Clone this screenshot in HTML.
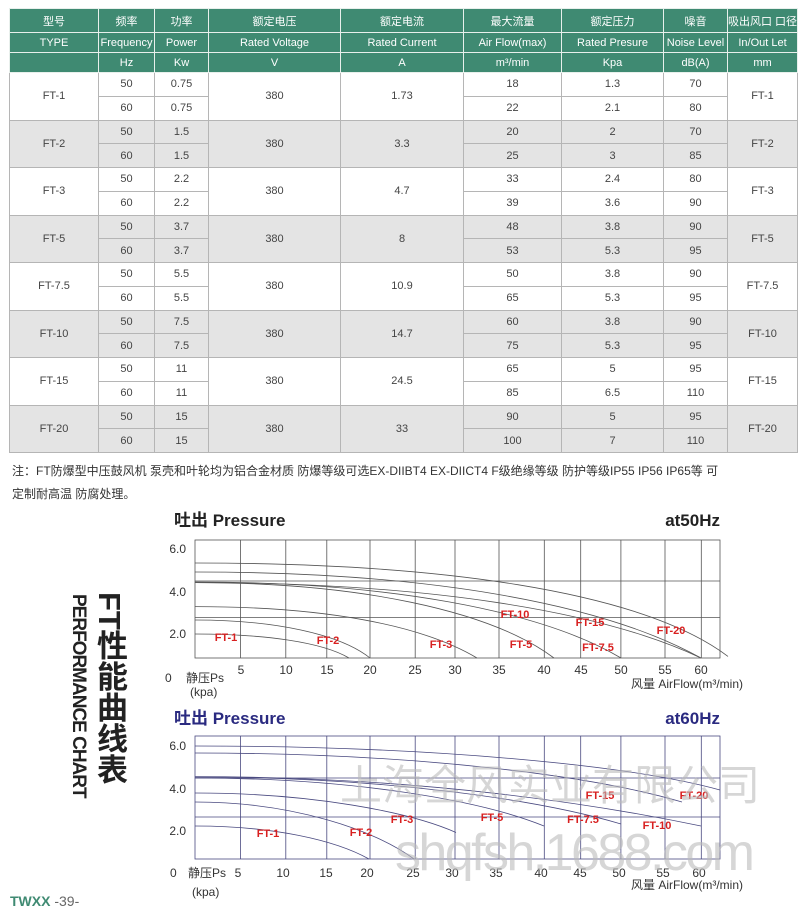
<!DOCTYPE html>
<html><head><meta charset="utf-8"><style>
body{margin:0;width:800px;height:905px;background:#fff;position:relative;overflow:hidden;font-family:"Liberation Sans","Noto Sans CJK SC",sans-serif}
table{position:absolute;left:9px;top:8px;border-collapse:collapse;table-layout:fixed;width:788px;font-size:11px;color:#444}
td{text-align:center;padding:0;border:1px solid #b5b5b5;white-space:nowrap;overflow:hidden}
tr.h td{background:#3f8a72;color:#fff;border:1px solid #e8f0ec}
tr.h1 td{height:23px}tr.h2 td,tr.h3 td{height:19px}
tr.d td{height:22.75px}
tr.g td{background:#e4e4e4}
.note{position:absolute;left:12px;font-size:12px;color:#333;white-space:nowrap}
</style></head><body>
<table>
<colgroup><col style="width:89px"><col style="width:56px"><col style="width:54px"><col style="width:132px"><col style="width:123px"><col style="width:98px"><col style="width:102px"><col style="width:64px"><col style="width:70px"></colgroup>
<tr class="h h1"><td>型号</td><td>频率</td><td>功率</td><td>额定电压</td><td>额定电流</td><td>最大流量</td><td>额定压力</td><td>噪音</td><td>吸出风口 口径</td></tr>
<tr class="h h2"><td>TYPE</td><td>Frequency</td><td>Power</td><td>Rated Voltage</td><td>Rated Current</td><td>Air Flow(max)</td><td>Rated Presure</td><td>Noise Level</td><td>In/Out Let</td></tr>
<tr class="h h3"><td></td><td>Hz</td><td>Kw</td><td>V</td><td>A</td><td>m³/min</td><td>Kpa</td><td>dB(A)</td><td>mm</td></tr>
<tr class="d"><td rowspan="2">FT-1</td><td>50</td><td>0.75</td><td rowspan="2">380</td><td rowspan="2">1.73</td><td>18</td><td>1.3</td><td>70</td><td rowspan="2">FT-1</td></tr>
<tr class="d"><td>60</td><td>0.75</td><td>22</td><td>2.1</td><td>80</td></tr>
<tr class="d g"><td rowspan="2">FT-2</td><td>50</td><td>1.5</td><td rowspan="2">380</td><td rowspan="2">3.3</td><td>20</td><td>2</td><td>70</td><td rowspan="2">FT-2</td></tr>
<tr class="d g"><td>60</td><td>1.5</td><td>25</td><td>3</td><td>85</td></tr>
<tr class="d"><td rowspan="2">FT-3</td><td>50</td><td>2.2</td><td rowspan="2">380</td><td rowspan="2">4.7</td><td>33</td><td>2.4</td><td>80</td><td rowspan="2">FT-3</td></tr>
<tr class="d"><td>60</td><td>2.2</td><td>39</td><td>3.6</td><td>90</td></tr>
<tr class="d g"><td rowspan="2">FT-5</td><td>50</td><td>3.7</td><td rowspan="2">380</td><td rowspan="2">8</td><td>48</td><td>3.8</td><td>90</td><td rowspan="2">FT-5</td></tr>
<tr class="d g"><td>60</td><td>3.7</td><td>53</td><td>5.3</td><td>95</td></tr>
<tr class="d"><td rowspan="2">FT-7.5</td><td>50</td><td>5.5</td><td rowspan="2">380</td><td rowspan="2">10.9</td><td>50</td><td>3.8</td><td>90</td><td rowspan="2">FT-7.5</td></tr>
<tr class="d"><td>60</td><td>5.5</td><td>65</td><td>5.3</td><td>95</td></tr>
<tr class="d g"><td rowspan="2">FT-10</td><td>50</td><td>7.5</td><td rowspan="2">380</td><td rowspan="2">14.7</td><td>60</td><td>3.8</td><td>90</td><td rowspan="2">FT-10</td></tr>
<tr class="d g"><td>60</td><td>7.5</td><td>75</td><td>5.3</td><td>95</td></tr>
<tr class="d"><td rowspan="2">FT-15</td><td>50</td><td>11</td><td rowspan="2">380</td><td rowspan="2">24.5</td><td>65</td><td>5</td><td>95</td><td rowspan="2">FT-15</td></tr>
<tr class="d"><td>60</td><td>11</td><td>85</td><td>6.5</td><td>110</td></tr>
<tr class="d g"><td rowspan="2">FT-20</td><td>50</td><td>15</td><td rowspan="2">380</td><td rowspan="2">33</td><td>90</td><td>5</td><td>95</td><td rowspan="2">FT-20</td></tr>
<tr class="d g"><td>60</td><td>15</td><td>100</td><td>7</td><td>110</td></tr>
</table>
<div class="note" style="top:462px">注：FT防爆型中压鼓风机 泵壳和叶轮均为铝合金材质 防爆等级可选EX-DIIBT4 EX-DIICT4 F级绝缘等级 防护等级IP55 IP56 IP65等 可</div>
<div class="note" style="top:485px">定制耐高温 防腐处理。</div>

<div style="position:absolute;left:92px;top:592px;writing-mode:vertical-rl;font-size:31px;font-weight:bold;color:#222;line-height:34px;font-family:'Liberation Sans','Noto Sans CJK SC',sans-serif">FT性能曲线表</div>
<div style="position:absolute;left:89px;top:594px;transform:rotate(90deg);transform-origin:0 0;font-size:19px;font-weight:bold;color:#222;white-space:nowrap;letter-spacing:-1px;font-family:'Liberation Sans Narrow','Liberation Sans',sans-serif">PERFORMANCE CHART</div>
<div style="position:absolute;left:10px;top:893px;font-size:14px;color:#3f8a72;font-weight:bold">TWXX <span style="color:#666;font-weight:normal">-39-</span></div>

<svg width="800" height="905" style="position:absolute;left:0;top:0" font-family="Liberation Sans, Noto Sans CJK SC, sans-serif">
<g stroke="#555" stroke-width="0.8" fill="none">
<rect x="195" y="540" width="525" height="118"/>
<path d="M240.6 540V658M285.8 540V658M326.8 540V658M370 540V658M415.2 540V658M455 540V658M499 540V658M544.3 540V658M580.7 540V658M620.9 540V658M665 540V658M701.3 540V658M195 581H720M195 617.4H720"/>
<path d="M195 634C264 634 322 642 349 658"/>
<path d="M195 620C274 620 340 634 370 658"/>
<path d="M195 606.6C322 606.6 420 624 477 658"/>
<path d="M195 582.6C357 582.6 490 610 554 658"/>
<path d="M195 582C387 582 540 610 621 658"/>
<path d="M195 582.6C423 582.6 600 610 701 658"/>
<path d="M195 572C423 572 600 602 701 658"/>
<path d="M195 563C435 563 640 590 728 656.4"/>
</g>
<g fill="#d82020" font-size="11" font-weight="bold" text-anchor="middle">
<text x="226" y="641">FT-1</text><text x="328" y="644">FT-2</text><text x="441" y="648">FT-3</text><text x="521" y="648">FT-5</text><text x="598" y="651">FT-7.5</text><text x="515" y="618">FT-10</text><text x="590" y="626">FT-15</text><text x="671" y="634">FT-20</text>
</g>
<g fill="#333" font-size="12">
<text x="186" y="553" text-anchor="end">6.0</text><text x="186" y="596" text-anchor="end">4.0</text><text x="186" y="638" text-anchor="end">2.0</text>
<g text-anchor="middle"><text x="241" y="674">5</text><text x="286" y="674">10</text><text x="327" y="674">15</text><text x="370" y="674">20</text><text x="415" y="674">25</text><text x="455" y="674">30</text><text x="499" y="674">35</text><text x="544" y="674">40</text><text x="581" y="674">45</text><text x="621" y="674">50</text><text x="665" y="674">55</text><text x="701" y="674">60</text></g>
<text x="165" y="682">0</text><text x="186" y="682">静压Ps</text><text x="190" y="696">(kpa)</text>
<text x="743" y="688" text-anchor="end">风量 AirFlow(m³/min)</text>
</g>
<text x="174" y="526" font-size="17" font-weight="bold" fill="#222">吐出 Pressure</text>
<text x="720" y="526" font-size="17" font-weight="bold" fill="#222" text-anchor="end">at50Hz</text>

<g stroke="#4a4a80" stroke-width="0.8" fill="none">
<rect x="195" y="736" width="525" height="123"/>
<path d="M240.6 736V859M285.8 736V859M326.8 736V859M370 736V859M415.2 736V859M455 736V859M499 736V859M544.3 736V859M580.7 736V859M620.9 736V859M665 736V859M701.3 736V859M195 778H720M195 817H720"/>
<path d="M195 826C273 826 335 840 369 859"/>
<path d="M195 802C293 802 375 830 414 859"/>
<path d="M195 793C312 793 410 812 456 832.5"/>
<path d="M195 778C352 778 480 800 544 826"/>
<path d="M195 777C387 777 540 800 621 824"/>
<path d="M195 776.6C423 776.6 600 805 701 826"/>
<path d="M195 753C414 753 590 775 682 802"/>
<path d="M195 746C431 746 630 765 720 790"/>
</g>
<g fill="#d82020" font-size="11" font-weight="bold" text-anchor="middle">
<text x="268" y="837">FT-1</text><text x="361" y="836">FT-2</text><text x="402" y="823">FT-3</text><text x="492" y="821">FT-5</text><text x="583" y="823">FT-7.5</text><text x="657" y="829">FT-10</text><text x="600" y="799">FT-15</text><text x="694" y="799">FT-20</text>
</g>
<g fill="#333" font-size="12">
<text x="186" y="750" text-anchor="end">6.0</text><text x="186" y="793" text-anchor="end">4.0</text><text x="186" y="835" text-anchor="end">2.0</text>
<g text-anchor="middle"><text x="238" y="877">5</text><text x="283" y="877">10</text><text x="326" y="877">15</text><text x="367" y="877">20</text><text x="413" y="877">25</text><text x="452" y="877">30</text><text x="496" y="877">35</text><text x="541" y="877">40</text><text x="580" y="877">45</text><text x="619" y="877">50</text><text x="663" y="877">55</text><text x="699" y="877">60</text></g>
<text x="170" y="877">0</text><text x="188" y="877">静压Ps</text><text x="192" y="896">(kpa)</text>
<text x="743" y="889" text-anchor="end">风量 AirFlow(m³/min)</text>
</g>
<text x="174" y="724" font-size="17" font-weight="bold" fill="#2a2a80">吐出 Pressure</text>
<text x="720" y="724" font-size="17" font-weight="bold" fill="#2a2a80" text-anchor="end">at60Hz</text>
<g fill="#bbb" opacity="0.6">
<text x="340" y="800" font-size="42" textLength="420">上海全风实业有限公司</text>
<text x="395" y="870" font-size="52" textLength="360">shqfsh.1688.com</text>
</g>
</svg>
</body></html>
